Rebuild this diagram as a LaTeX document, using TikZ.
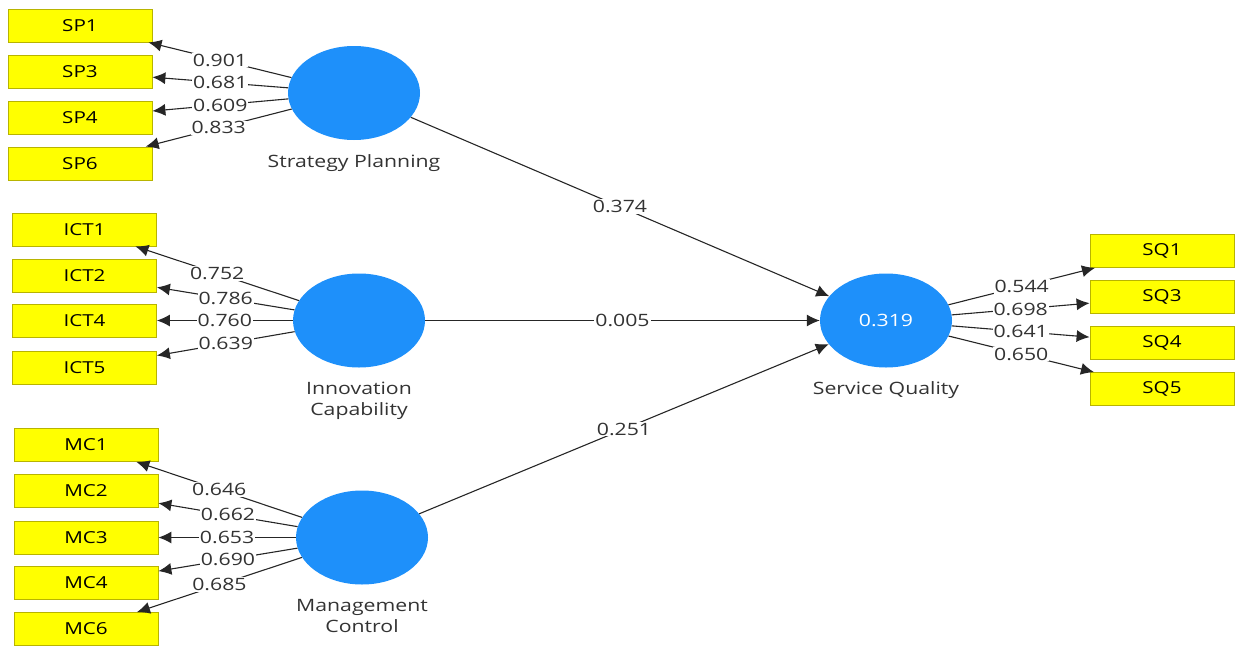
\documentclass[tikz,border=0pt]{standalone}
\usepackage{fontspec}
\setmainfont{Open Sans}[FakeStretch=1.25]
\usetikzlibrary{shapes.geometric,arrows.meta}
\definecolor{boxyellow}{HTML}{FFFF00}
\definecolor{boxborder}{HTML}{B8B400}
\definecolor{lvblue}{HTML}{1E90FA}
\definecolor{txt}{HTML}{333333}
\tikzset{
  ind/.style={rectangle, draw=boxborder, line width=0.8pt, fill=boxyellow, minimum width=144pt, minimum height=33pt, inner sep=0pt, text=black, font=\fontsize{16.5}{19}\selectfont},
  lv/.style={ellipse, fill=lvblue, minimum width=132pt, minimum height=94pt, inner sep=0pt, text=white, font=\fontsize{17}{19}\selectfont},
  lvname/.style={text=txt, align=center, font=\fontsize{17}{21}\selectfont},
  conn/.style={draw=black!85, line width=1.1pt, -{Latex[length=13pt,width=12pt]}},
  lbl/.style={fill=white, inner sep=1pt, text=txt, font=\fontsize{17}{19}\selectfont}
}
\begin{document}
\begin{tikzpicture}[x=1pt,y=-1pt]
\useasboundingbox (0,0) rectangle (1243,646);
% indicators
\node[ind] (sp1) at (80,25.5) {SP1};
\node[ind] (sp3) at (80,71.5) {SP3};
\node[ind] (sp4) at (80,117.5) {SP4};
\node[ind] (sp6) at (80,163.5) {SP6};
\node[ind] (ict1) at (84.5,229.5) {ICT1};
\node[ind] (ict2) at (84.5,275.5) {ICT2};
\node[ind] (ict4) at (84.5,320.5) {ICT4};
\node[ind] (ict5) at (84.5,368) {ICT5};
\node[ind] (mc1) at (86,445) {MC1};
\node[ind] (mc2) at (86,491) {MC2};
\node[ind] (mc3) at (86,537.5) {MC3};
\node[ind] (mc4) at (86,583) {MC4};
\node[ind] (mc6) at (86,629) {MC6};
\node[ind] (sq1) at (1162,251) {SQ1};
\node[ind] (sq3) at (1162,297) {SQ3};
\node[ind] (sq4) at (1162,343) {SQ4};
\node[ind] (sq5) at (1162,389) {SQ5};
% latent variables
\node[lv] (sp) at (354,93) {};
\node[lv] (ic) at (359,320.5) {};
\node[lv] (mc) at (362,537.5) {};
\node[lv] (sq) at (886,320.5) {0.319};
\node[lvname] (spn) at (354,163) {Strategy Planning};
\node[lvname] (icn) at (359,401) {Innovation\\Capability};
\node[lvname] (mcn) at (362,616) {Management\\Control};
\node[lvname] (sqn) at (886,390) {Service Quality};
% structural paths
\draw[conn] (sp) -- node[lbl]{0.374} (sq);
\draw[conn] (ic) -- node[lbl]{0.005} (sq);
\draw[conn] (mc) -- node[lbl]{0.251} (sq);
% outer loadings
\draw[conn] (sp) -- node[lbl]{0.901} (sp1);
\draw[conn] (sp) -- node[lbl]{0.681} (sp3);
\draw[conn] (sp) -- node[lbl]{0.609} (sp4);
\draw[conn] (sp) -- node[lbl]{0.833} (sp6);
\draw[conn] (ic) -- node[lbl]{0.752} (ict1);
\draw[conn] (ic) -- node[lbl]{0.786} (ict2);
\draw[conn] (ic) -- node[lbl]{0.760} (ict4);
\draw[conn] (ic) -- node[lbl]{0.639} (ict5);
\draw[conn] (mc) -- node[lbl]{0.646} (mc1);
\draw[conn] (mc) -- node[lbl]{0.662} (mc2);
\draw[conn] (mc) -- node[lbl]{0.653} (mc3);
\draw[conn] (mc) -- node[lbl]{0.690} (mc4);
\draw[conn] (mc) -- node[lbl]{0.685} (mc6);
\draw[conn] (sq) -- node[lbl]{0.544} (sq1);
\draw[conn] (sq) -- node[lbl]{0.698} (sq3);
\draw[conn] (sq) -- node[lbl]{0.641} (sq4);
\draw[conn] (sq) -- node[lbl]{0.650} (sq5);
\end{tikzpicture}
\end{document}
